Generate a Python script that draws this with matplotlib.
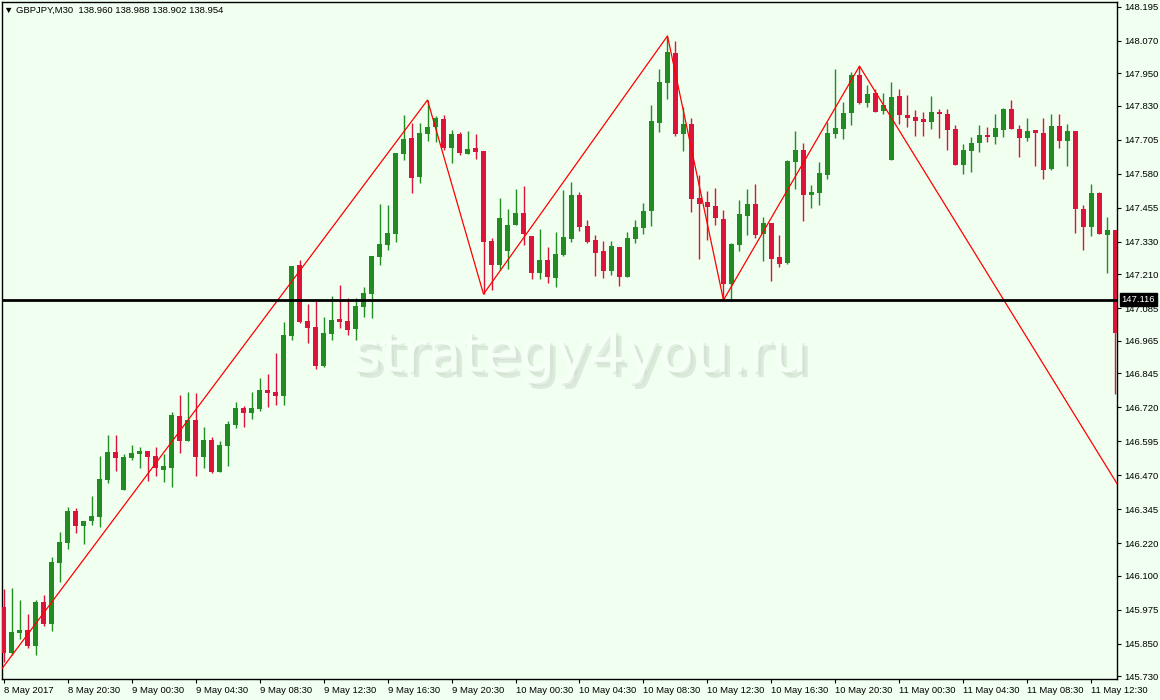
import numpy as np
import matplotlib
matplotlib.use("Agg")
import matplotlib.pyplot as plt
import matplotlib.patheffects as pe
from matplotlib.transforms import blended_transform_factory

# GBPJPY M30 candles, 8 May 16:30 -> 11 May 14:00
opens = [
    145.986, 145.815, 145.891, 145.901, 145.842, 146.004, 145.922, 146.147, 146.221, 146.338,
    146.283, 146.301, 146.316, 146.453, 146.556, 146.416, 146.534, 146.548, 146.559, 146.541,
    146.489, 146.497, 146.688, 146.596, 146.673, 146.537, 146.600, 146.482, 146.578, 146.655,
    146.718, 146.699, 146.714, 146.784, 146.777, 146.762, 146.983, 147.244, 147.038, 147.015,
    146.872, 146.990, 147.045, 147.038, 147.008, 147.089, 147.137, 147.273, 147.318, 147.358,
    147.652, 147.712, 147.567, 147.726, 147.751, 147.781, 147.675, 147.726, 147.652, 147.675,
    147.663, 147.332, 147.244, 147.295, 147.391, 147.435, 147.351, 147.214, 147.262, 147.196,
    147.281, 147.340, 147.502, 147.387, 147.336, 147.295, 147.221, 147.310, 147.199, 147.340,
    147.380, 147.442, 147.766, 147.914, 148.024, 147.726, 147.762, 147.491, 147.476, 147.461,
    147.413, 147.174, 147.318, 147.424, 147.468, 147.358, 147.398, 147.273, 147.251, 147.623,
    147.667, 147.502, 147.509, 147.575, 147.726, 147.744, 147.803, 147.943, 147.840, 147.877,
    147.810, 147.630, 147.866, 147.796, 147.788, 147.781, 147.770, 147.807, 147.799, 147.744,
    147.612, 147.663, 147.693, 147.723, 147.715, 147.741, 147.818, 147.744, 147.712, 147.741,
    147.730, 147.597, 147.755, 147.700, 147.737, 147.450, 147.383, 147.509, 147.355, 147.373,
]
highs = [
    146.052, 146.057, 146.011, 145.960, 146.011, 146.030, 146.170, 146.262, 146.353, 146.350,
    146.301, 146.394, 146.541, 146.619, 146.619, 146.548, 146.582, 146.574, 146.559, 146.574,
    146.548, 146.703, 146.766, 146.777, 146.773, 146.647, 146.611, 146.596, 146.669, 146.740,
    146.725, 146.777, 146.828, 146.842, 146.920, 147.034, 147.240, 147.262, 147.100, 147.111,
    147.052, 147.130, 147.171, 147.123, 147.123, 147.163, 147.277, 147.468, 147.465, 147.656,
    147.796, 147.766, 147.766, 147.851, 147.792, 147.796, 147.741, 147.734, 147.737, 147.726,
    147.663, 147.344, 147.491, 147.450, 147.524, 147.535, 147.351, 147.376, 147.310, 147.366,
    147.520, 147.550, 147.513, 147.409, 147.355, 147.332, 147.332, 147.310, 147.366, 147.409,
    147.472, 147.833, 147.965, 148.087, 148.068, 147.825, 147.785, 147.575, 147.516, 147.528,
    147.446, 147.325, 147.483, 147.524, 147.542, 147.420, 147.398, 147.355, 147.630, 147.737,
    147.693, 147.539, 147.623, 147.770, 147.965, 147.844, 147.954, 147.976, 147.907, 147.892,
    147.877, 147.918, 147.892, 147.870, 147.814, 147.807, 147.866, 147.818, 147.818, 147.759,
    147.689, 147.715, 147.759, 147.751, 147.799, 147.822, 147.851, 147.759, 147.785, 147.741,
    147.785, 147.799, 147.799, 147.762, 147.737, 147.465, 147.542, 147.513, 147.420, 147.373,
]
lows = [
    145.784, 145.809, 145.868, 145.836, 145.809, 145.915, 145.898, 146.078, 146.199, 146.258,
    146.217, 146.287, 146.279, 146.442, 146.485, 146.416, 146.526, 146.497, 146.449, 146.467,
    146.446, 146.427, 146.552, 146.596, 146.467, 146.497, 146.478, 146.482, 146.504, 146.644,
    146.647, 146.677, 146.706, 146.721, 146.729, 146.729, 146.968, 147.030, 146.957, 146.861,
    146.868, 146.968, 147.012, 146.987, 146.968, 147.052, 147.049, 147.244, 147.299, 147.329,
    147.630, 147.509, 147.546, 147.700, 147.696, 147.667, 147.619, 147.649, 147.652, 147.634,
    147.137, 147.152, 147.225, 147.229, 147.391, 147.318, 147.192, 147.192, 147.178, 147.163,
    147.277, 147.329, 147.369, 147.325, 147.203, 147.196, 147.207, 147.167, 147.199, 147.325,
    147.358, 147.387, 147.734, 147.855, 147.719, 147.663, 147.439, 147.266, 147.336, 147.391,
    147.115, 147.111, 147.295, 147.355, 147.344, 147.258, 147.185, 147.236, 147.247, 147.524,
    147.405, 147.454, 147.465, 147.560, 147.712, 147.708, 147.759, 147.836, 147.825, 147.807,
    147.799, 147.630, 147.762, 147.751, 147.719, 147.719, 147.744, 147.712, 147.667, 147.612,
    147.578, 147.586, 147.660, 147.696, 147.689, 147.715, 147.744, 147.641, 147.700, 147.608,
    147.560, 147.593, 147.675, 147.608, 147.362, 147.299, 147.351, 147.358, 147.214, 146.769,
]
closes = [
    145.815, 145.895, 145.901, 145.842, 146.004, 145.922, 146.151, 146.225, 146.338, 146.283,
    146.301, 146.320, 146.456, 146.556, 146.534, 146.537, 146.552, 146.559, 146.537, 146.497,
    146.504, 146.692, 146.596, 146.673, 146.537, 146.600, 146.482, 146.582, 146.658, 146.718,
    146.699, 146.718, 146.784, 146.773, 146.762, 146.987, 147.240, 147.034, 147.012, 146.872,
    146.994, 147.041, 147.034, 147.005, 147.093, 147.141, 147.277, 147.321, 147.362, 147.656,
    147.708, 147.564, 147.730, 147.751, 147.785, 147.675, 147.726, 147.656, 147.671, 147.660,
    147.329, 147.244, 147.417, 147.391, 147.435, 147.358, 147.214, 147.262, 147.199, 147.284,
    147.347, 147.502, 147.383, 147.329, 147.288, 147.221, 147.314, 147.199, 147.344, 147.383,
    147.442, 147.773, 147.918, 148.028, 147.726, 147.762, 147.487, 147.468, 147.457, 147.417,
    147.174, 147.321, 147.431, 147.468, 147.355, 147.398, 147.266, 147.247, 147.626, 147.667,
    147.502, 147.513, 147.582, 147.730, 147.748, 147.803, 147.943, 147.840, 147.873, 147.807,
    147.833, 147.862, 147.796, 147.785, 147.773, 147.770, 147.807, 147.799, 147.741, 147.612,
    147.667, 147.693, 147.723, 147.715, 147.748, 147.818, 147.744, 147.712, 147.737, 147.730,
    147.593, 147.755, 147.700, 147.737, 147.450, 147.383, 147.509, 147.358, 147.373, 146.994,
]

# zigzag pivots (bar index, price)
zz_bar = [-1, 53, 60, 83, 90, 107, 140]
zz_price = [145.727, 147.851, 147.137, 148.087, 147.115, 147.976, 146.401]

hline_price = 147.116

xtick_bars = [0, 8, 16, 24, 32, 40, 48, 56, 64, 72, 80, 88, 96, 104, 112, 120, 128, 136]
xtick_labels = ["8 May 2017", "8 May 20:30", "9 May 00:30", "9 May 04:30", "9 May 08:30",
                "9 May 12:30", "9 May 16:30", "9 May 20:30", "10 May 00:30", "10 May 04:30",
                "10 May 08:30", "10 May 12:30", "10 May 16:30", "10 May 20:30", "11 May 00:30",
                "11 May 04:30", "11 May 08:30", "11 May 12:30"]
ytick_vals = [148.195, 148.070, 147.950, 147.830, 147.705, 147.580, 147.455, 147.330, 147.210,
              147.085, 146.965, 146.845, 146.720, 146.595, 146.470, 146.345, 146.220, 146.100,
              145.975, 145.850, 145.730]

header = "\u25bc GBPJPY,M30  138.960 138.988 138.902 138.954"

plt.rcParams['font.family'] = ['Liberation Sans', 'DejaVu Sans']

bg = '#f0fff0'
green = '#228b22'
red = '#dc143c'

fig = plt.figure(figsize=(11.6, 7.0), dpi=100, facecolor=bg)
ax = fig.add_axes([2/1160, 21/700, 1115/1160, 677/700], facecolor=bg)

o = np.array(opens); h = np.array(highs); l = np.array(lows); c = np.array(closes)
x = np.arange(len(o))
cols = np.where(c >= o, green, red)

# watermark behind candles, soft grey drop shadow
ax.text(0.518, 0.477, "strategy4you.ru", transform=ax.transAxes, ha='center', va='center',
        fontsize=41, color='#f6fff6', family='DejaVu Sans', zorder=0.5,
        path_effects=[pe.withSimplePatchShadow(offset=(4, -4), shadow_rgbFace='#b4c4b4', alpha=0.35),
                      pe.withSimplePatchShadow(offset=(2, -2), shadow_rgbFace='#c8d6c8', alpha=0.35)])

ax.vlines(x, l, h, colors=cols, lw=1, zorder=2)
ax.bar(x, np.maximum(np.abs(c - o), 0.003), bottom=np.minimum(o, c), width=0.62,
       color=cols, lw=0, zorder=3)

ax.plot(zz_bar, zz_price, color='#ff0000', lw=0.9, zorder=4)
ax.axhline(hline_price, color='black', lw=2, zorder=5)

ax.set_xlim(-0.19, 139.19)
ax.set_ylim(145.7206, 148.2119)

ax.yaxis.tick_right()
ax.set_yticks(ytick_vals)
ax.set_yticklabels([f"{v:.3f}" for v in ytick_vals])
ax.set_xticks(xtick_bars)
ax.set_xticklabels(xtick_labels, ha='left')
ax.tick_params(axis='both', length=3, width=0.8, labelsize=6.8, pad=2, colors='black')
for s in ax.spines.values():
    s.set_color('black')
    s.set_linewidth(1)

tr = blended_transform_factory(ax.transAxes, ax.transData)
ax.text(1.004, hline_price, f"{hline_price:.3f}", transform=tr, ha='left', va='center',
        color='white', fontsize=6.8, zorder=10, clip_on=False,
        bbox=dict(boxstyle='square,pad=0.2', fc='black', ec='black'))

fig.text(4/1160, 1 - 10/700, header, ha='left', va='center', fontsize=6.8, color='black')

fig.savefig("out.png", dpi=100, facecolor=bg)
